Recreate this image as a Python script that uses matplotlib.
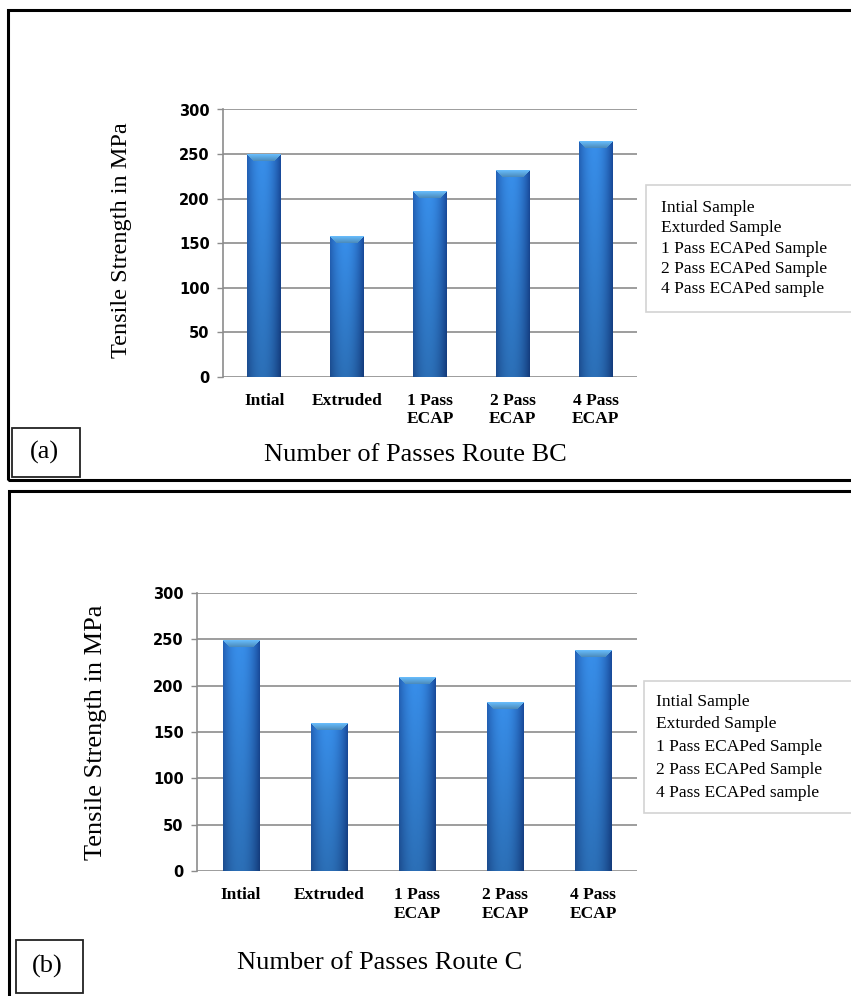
import numpy as np
import matplotlib
matplotlib.use("Agg")
import matplotlib.pyplot as plt
from matplotlib.patches import Rectangle

# ---------------- data ----------------
categories = ["Intial", "Extruded", "1 Pass\nECAP", "2 Pass\nECAP", "4 Pass\nECAP"]
legend_labels = ["Intial Sample", "Exturded Sample", "1 Pass ECAPed Sample",
                 "2 Pass ECAPed Sample", "4 Pass ECAPed sample"]
route_bc = [250, 158, 208, 232, 264]
route_c = [249, 159, 209, 182, 238]
y_ticks = [0, 50, 100, 150, 200, 250, 300]
ylabel_text = "Tensile Strength in MPa"
xlabel_a = "Number of Passes Route BC"
xlabel_c = "Number of Passes Route C"

W, H = 851, 996
fig = plt.figure(figsize=(W / 100, H / 100), dpi=100)
fig.patch.set_facecolor("white")

SERIF = ["Liberation Serif", "DejaVu Serif"]
SANS = ["DejaVu Sans"]


def fx(x):
    return x / W


def fy(y):
    return 1 - y / H


def add_axes_px(left, top, right, bottom):
    return fig.add_axes([fx(left), fy(bottom), (right - left) / W, (bottom - top) / H])


def shade_bars(ax, bars):
    fig.canvas.draw()
    light = np.array([0.22, 0.56, 0.92])
    dark = np.array([0.10, 0.30, 0.62])
    bevel = np.array([0.40, 0.73, 0.98])
    for r in bars:
        x0, w, h = r.get_x(), r.get_width(), r.get_height()
        p0 = ax.transData.transform((x0, 0))
        p1 = ax.transData.transform((x0 + w, h))
        ncols = max(int(round(abs(p1[0] - p0[0]))), 2)
        nrows = max(int(round(abs(p1[1] - p0[1]))), 2)
        u = np.linspace(0, 1, ncols)
        t = np.clip(np.abs(u - 0.45) / 0.55, 0, 1) ** 2
        row = light[None, :] * (1 - t[:, None]) + dark[None, :] * t[:, None]
        v = np.linspace(0, 1, nrows)[:, None, None]
        img = row[None, :, :] * (1.0 - 0.22 * v)
        bev = 7
        for k in range(min(bev, nrows)):
            a, b = k, ncols - k
            if b > a:
                img[k, a:b, :] = bevel * (1 - 0.04 * k)
        img = np.clip(img, 0, 1)
        ax.imshow(img, extent=(x0, x0 + w, 0, h), aspect="auto", origin="upper",
                  zorder=3, interpolation="nearest")
        r.set_visible(False)


def make_panel(ax_box, values, xlabel, ylab_font, ylab_pos, xlab_pos, leg_box,
               leg_spacing, leg_pad):
    ax = add_axes_px(*ax_box)
    x = np.arange(len(categories))
    bars = ax.bar(x, values, width=0.41, color="#2f78d0", zorder=3)
    ax.set_xlim(-0.5, len(categories) - 0.5)
    ax.set_ylim(0, 300)
    ax.set_yticks(y_ticks)
    ax.set_xticks(x)
    ax.set_xticklabels(categories, fontfamily=SERIF, fontweight="bold", fontsize=12.5,
                       linespacing=1.22)
    ax.set_yticklabels([str(v) for v in y_ticks], fontfamily=SANS, fontweight="bold",
                       fontsize=10.5)
    ax.tick_params(axis="x", length=0, pad=11.5)
    ax.tick_params(axis="y", length=4.5, width=1, color="#8c8c8c", pad=5)
    ax.grid(axis="y", color="#8c8c8c", lw=1.2, zorder=0)
    ax.set_axisbelow(True)
    for s in ["top", "right", "bottom"]:
        ax.spines[s].set_visible(False)
    ax.spines["left"].set_color("#8c8c8c")
    ax.spines["left"].set_linewidth(1.2)
    ax.set_ylabel(ylabel_text, fontfamily=SERIF, fontsize=ylab_font, va="center")
    ax.yaxis.set_label_coords(*ylab_pos)
    ax.set_xlabel(xlabel, fontfamily=SERIF, fontsize=19, va="center")
    ax.xaxis.set_label_coords(*xlab_pos)
    shade_bars(ax, bars)
    ax.set_xlim(-0.5, len(categories) - 0.5)
    ax.set_ylim(0, 300)

    handles = [Rectangle((0, 0), 0, 0, alpha=0) for _ in legend_labels]
    lx, ltop, lbottom = leg_box
    leg = ax.legend(handles, legend_labels, loc="upper left", mode="expand",
                    bbox_to_anchor=(fx(lx), fy(lbottom), 230 / W, (lbottom - ltop) / H),
                    bbox_transform=fig.transFigure, handlelength=0, handletextpad=0,
                    prop={"family": SERIF, "size": 12.5}, labelspacing=leg_spacing,
                    borderpad=leg_pad, borderaxespad=0, fancybox=False, frameon=True)
    leg.get_frame().set_edgecolor("#c8c8c8")
    leg.get_frame().set_linewidth(1.2)
    return ax


# panel (a)
make_panel((223, 109.5, 637, 376.7), route_bc, xlabel_a, 17.5,
           ((122 - 223) / 414, 0.513), ((415 - 223) / 414, (376.7 - 455) / 267.2),
           (646, 185, 312), 0.24, 0.85)
# panel (b)
make_panel((197, 593, 637, 871), route_c, xlabel_c, 19,
           ((96 - 197) / 440, 0.5), ((380 - 197) / 440, (871 - 963) / 278),
           (644, 681, 813), 0.38, 0.72)

# panel frames
for (x0, y0, x1, y1) in [(8, 10, 900, 480), (8.5, 491, 900, 1100)]:
    fig.patches.append(Rectangle((fx(x0), fy(y1)), (x1 - x0) / W, (y1 - y0) / H,
                                 transform=fig.transFigure, fill=False,
                                 edgecolor="black", lw=2.2, zorder=10))

# panel tags
for (x0, y0, x1, y1, tag) in [(12, 428, 80, 477, "(a)"), (16, 940, 83, 993, "(b)")]:
    fig.patches.append(Rectangle((fx(x0), fy(y1)), (x1 - x0) / W, (y1 - y0) / H,
                                 transform=fig.transFigure, fill=False,
                                 edgecolor="#222222", lw=1.3, zorder=10))
    fig.text(fx((x0 + x1) / 2 - 2), fy((y0 + y1) / 2), tag, fontfamily=SERIF,
             fontsize=19, ha="center", va="center")

fig.savefig("out.png", dpi=100, facecolor="white")
